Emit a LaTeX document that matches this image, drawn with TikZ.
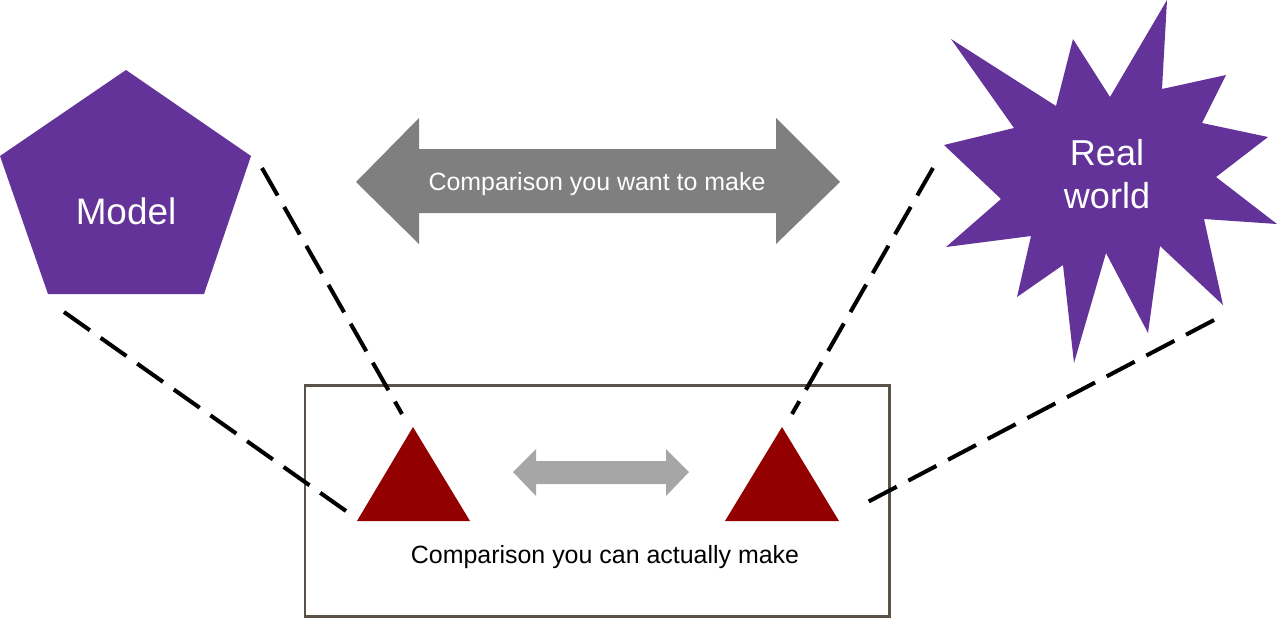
\documentclass[tikz,border=0pt]{standalone}
\usepackage{fontspec}
\setmainfont{Liberation Sans}
\usetikzlibrary{positioning}

\definecolor{shapepurple}{HTML}{633399}
\definecolor{obsred}{HTML}{920000}
\definecolor{wantgray}{HTML}{7F7F7F}
\definecolor{cangray}{HTML}{A6A6A6}
\definecolor{boxline}{HTML}{5A5249}

\begin{document}
\begin{tikzpicture}[
    x=0.02cm, y=-0.02cm,
    purpleshape/.style={fill=shapepurple, draw=none},
    obsshape/.style={fill=obsred, draw=none},
    shapelabel/.style={
        text=white, align=center, inner sep=0pt
    },
    arrowlabel/.style={
        font=\fontsize{14.2}{17}\selectfont, inner sep=0pt, text=#1
    },
    linkline/.style={
        draw=black, line width=2.3pt, dash pattern=on 18pt off 7.5pt
    },
    framebox/.style={draw=boxline, line width=1.7pt}
]
\useasboundingbox (0,0) rectangle (1277,620);

% --- Model ---
\fill[purpleshape] (126,70) -- (251,156) -- (204,294) -- (48,294) -- (0,156) -- cycle;
\node[shapelabel, font=\fontsize{21}{25}\selectfont] (model) at (126,211) {Model};

% --- Real world ---
\fill[purpleshape] (951,39) -- (1056,106) -- (1073,39) -- (1110,97) -- (1167,0)
    -- (1162,89) -- (1226,75) -- (1202,123) -- (1268,137) -- (1216,177)
    -- (1277,224) -- (1204,219) -- (1223,305) -- (1160,246) -- (1148,333)
    -- (1106,253) -- (1074,363) -- (1063,265) -- (1017,297) -- (1031,236)
    -- (946,247) -- (1001,199) -- (944,145) -- (1014,128) -- cycle;
\node[shapelabel, font=\fontsize{20.5}{24.5}\selectfont] (world) at (1107,174) {Real\\world};

% --- Comparison you want to make ---
\fill[wantgray] (356,182) -- (419,118) -- (419,149) -- (776,149) -- (776,118)
    -- (840,182) -- (776,244) -- (776,213) -- (419,213) -- (419,244) -- cycle;
\node[arrowlabel=white] (want) at (597,184) {Comparison you want to make};

% --- Observation frame ---
\draw[framebox] (305,385) rectangle (889,616);
\node[arrowlabel=black] (can) at (605,557) {Comparison you can actually make};

% Observations
\fill[obsshape] (413,427) -- (470,521) -- (357,521) -- cycle;
\fill[obsshape] (782,427) -- (839,521) -- (725,521) -- cycle;
\fill[cangray] (513,472) -- (536,449) -- (536,461) -- (666,461) -- (666,449)
    -- (689,472) -- (666,496) -- (666,484) -- (536,484) -- (536,496) -- cycle;

% --- Dashed links ---
\coordinate (modelSW) at (64,312);
\coordinate (modelE) at (262,168);
\coordinate (worldW) at (933,168);
\coordinate (worldSE) at (1214,320);
\coordinate (obsLbase) at (346,511);
\coordinate (obsLtop) at (402,414);
\coordinate (obsRtop) at (792,414);
\coordinate (obsRbase) at (860,506);

\draw[linkline] (modelSW) -- (obsLbase);
\draw[linkline] (modelE) -- (obsLtop);
\draw[linkline] (worldW) -- (obsRtop);
\draw[linkline] (worldSE) -- (obsRbase);

\end{tikzpicture}
\end{document}
